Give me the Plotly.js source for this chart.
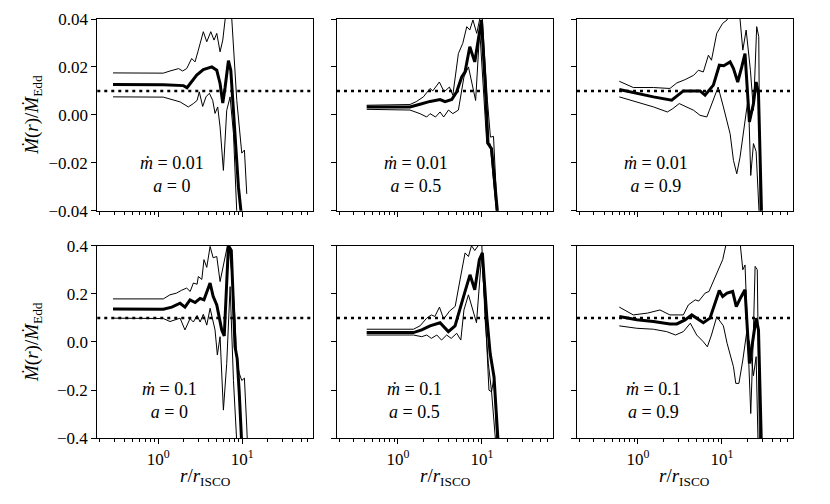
<!DOCTYPE html>
<html>
<head>
<meta charset="utf-8">
<script src="https://cdn.plot.ly/plotly-3.0.1.min.js"></script>
<style>
  body { margin: 0; background: #fff; }
  #container { width: 830px; height: 504px; }
</style>
</head>
<body>
<div id="container"></div>
<script>
// r / r_ISCO and Mdot / Mdot_Edd
// panel 1: mdot = 0.01, a = 0
const rMid1 = [0.29, 1.15, 2.0, 2.2, 2.87, 3.44, 4.34, 4.97, 5.44, 5.86, 6.24, 6.84, 7.3, 8.2, 9.0, 9.9];
const mid1 = [0.0127, 0.0126, 0.0122, 0.0113, 0.0166, 0.0189, 0.02, 0.0186, 0.0131, 0.0049, 0.0114, 0.0226, 0.0186, -0.0079, -0.0302, -0.044];
const rHi1 = [0.29, 1.15, 1.38, 1.75, 1.95, 2.18, 2.5, 2.74, 3.0, 3.44, 3.78, 4.22, 4.61, 4.97, 5.44, 5.86, 6.24, 6.65, 7.5, 8.6, 9.86, 10.6, 11.3];
const hi1 = [0.0175, 0.0174, 0.0183, 0.0193, 0.0183, 0.0193, 0.0235, 0.0221, 0.027, 0.0347, 0.0305, 0.0347, 0.0312, 0.034, 0.0263, 0.0312, 0.0396, 0.045, 0.04, 0.006, -0.016, -0.0147, -0.033];
const rLo1 = [0.29, 1.15, 1.82, 2.28, 2.62, 2.9, 3.08, 3.38, 3.7, 4.06, 4.45, 4.74, 5.1, 5.44, 5.96, 6.53, 7.16, 7.85, 8.7];
const lo1 = [0.0075, 0.0074, 0.0054, 0.0033, 0.0047, 0.006, 0.0096, 0.0035, 0.0075, 0.009, 0.006, 0.0006, 0.0033, -0.0051, -0.0232, 0.0019, 0.0075, -0.0078, -0.045];

// panel 2: mdot = 0.01, a = 0.5
const rMid2 = [0.425, 1.39, 1.83, 2.41, 3.17, 3.64, 4.37, 5.0, 5.74, 6.29, 7.16, 8.2, 9.0, 9.86, 10.9, 11.8, 13.0, 15.6];
const mid2 = [0.0033, 0.0033, 0.0044, 0.0056, 0.0064, 0.0055, 0.0064, 0.0096, 0.0158, 0.018, 0.0284, 0.0221, 0.031, 0.0396, 0.013, -0.012, -0.0142, -0.044];
const rHi2 = [0.425, 1.39, 1.65, 2.01, 2.41, 2.6, 3.11, 3.55, 4.1, 4.5, 5.24, 5.9, 6.59, 7.16, 7.8, 8.66, 9.4, 10.0, 11.6, 12.6, 13.7, 15.4];
const hi2 = [0.004, 0.0043, 0.0055, 0.0075, 0.011, 0.01, 0.0137, 0.0096, 0.0116, 0.0082, 0.0256, 0.0298, 0.0368, 0.0354, 0.0396, 0.034, 0.04, 0.042, 0.006, -0.0093, -0.009, -0.045];
const rLo2 = [0.425, 1.39, 1.83, 2.2, 2.41, 2.8, 3.17, 3.5, 4.0, 4.5, 5.24, 6.1, 6.9, 7.7, 8.4, 9.4, 10.4, 11.4, 12.5, 15.2];
const lo2 = [0.0023, 0.002, 0.0005, -0.0009, 0.0005, -0.0009, 0.0012, -0.0009, 0.002, 0.0005, 0.002, 0.0158, 0.02, 0.0116, 0.006, 0.0354, 0.0116, -0.012, -0.012, -0.045];

// panel 3: mdot = 0.01, a = 0.9
const rMid3 = [0.6, 0.97, 1.53, 2.52, 3.47, 5.48, 6.29, 7.9, 9.3, 10.5, 12.5, 13.7, 15.4, 17.2, 18.8, 21.2, 23.7, 25.5, 27.2, 29.7];
const mid3 = [0.0106, 0.0089, 0.0075, 0.0061, 0.01, 0.01, 0.0082, 0.0124, 0.0207, 0.0205, 0.0221, 0.0193, 0.0137, 0.02, 0.0256, -0.003, 0.0047, 0.0137, 0.0089, -0.044];
const rHi3 = [0.6, 0.88, 1.53, 2.4, 2.9, 3.64, 4.6, 5.24, 6.0, 6.9, 7.5, 8.66, 10.2, 11.5, 13.5, 15.5, 16.4, 17.7, 19.4, 21.8, 23.7, 25.9, 27.4, 28.5];
const hi3 = [0.014, 0.0114, 0.0114, 0.011, 0.0133, 0.0147, 0.0165, 0.0186, 0.0179, 0.0249, 0.0228, 0.034, 0.0382, 0.0396, 0.05, 0.05, 0.04, 0.027, 0.0354, 0.0186, 0.0019, 0.0368, 0.0326, -0.045];
const rLo3 = [0.6, 0.97, 1.53, 2.24, 2.6, 3.1, 3.81, 4.6, 5.48, 6.6, 7.08, 7.9, 9.0, 10.4, 12.5, 13.7, 15.0, 16.4, 18.3, 20.6, 22.0, 23.7, 25.5, 28.0];
const lo3 = [0.0075, 0.0054, 0.0033, 0.0012, 0.0026, 0.0047, 0.0033, 0.0019, -0.0002, -0.0009, 0.0019, 0.0061, 0.0116, 0.0033, -0.0079, -0.019, -0.0246, -0.0177, -0.0051, 0.0075, -0.0253, -0.012, -0.0153, -0.045];

// panel 4: mdot = 0.1, a = 0
const rMid4 = [0.29, 1.15, 1.45, 1.82, 2.08, 2.39, 2.75, 3.15, 3.5, 4.14, 4.5, 4.97, 5.7, 6.1, 6.84, 7.4, 8.2, 8.7, 9.2, 9.9];
const mid4 = [0.137, 0.136, 0.145, 0.161, 0.145, 0.175, 0.164, 0.181, 0.175, 0.245, 0.19, 0.154, 0.05, 0.025, 0.4, 0.38, -0.02, -0.07, -0.21, -0.44];
const rHi4 = [0.29, 1.15, 1.38, 1.65, 1.9, 2.18, 2.4, 2.62, 2.9, 3.0, 3.3, 3.5, 3.78, 4.14, 4.5, 4.97, 5.44, 5.86, 6.4, 6.84, 7.7, 8.2, 8.6, 9.2, 9.86, 10.6, 11.3, 11.6];
const hi4 = [0.179, 0.179, 0.196, 0.203, 0.215, 0.224, 0.21, 0.245, 0.24, 0.272, 0.26, 0.342, 0.31, 0.397, 0.35, 0.355, 0.251, 0.31, 0.375, 0.42, 0.245, 0.092, -0.075, -0.13, -0.16, -0.15, -0.353, -0.45];
const rLo4 = [0.29, 1.15, 1.38, 1.82, 2.08, 2.39, 2.62, 2.9, 3.15, 3.44, 3.78, 4.14, 4.74, 5.05, 5.44, 5.96, 6.53, 7.16, 7.85, 8.7];
const lo4 = [0.099, 0.0975, 0.085, 0.099, 0.05, 0.097, 0.083, 0.11, 0.083, 0.115, 0.07, 0.14, 0.05, -0.054, 0.022, -0.283, -0.089, 0.23, -0.16, -0.45];

// panel 5: mdot = 0.1, a = 0.5
const rMid5 = [0.425, 1.53, 1.92, 2.41, 3.17, 3.98, 4.78, 5.58, 6.29, 7.2, 8.2, 9.3, 10.1, 11.4, 12.5, 13.9, 15.7];
const mid5 = [0.039, 0.039, 0.05, 0.067, 0.08, 0.043, 0.067, 0.154, 0.21, 0.279, 0.217, 0.342, 0.37, 0.105, -0.047, -0.145, -0.44];
const rHi5 = [0.425, 1.53, 1.83, 2.2, 2.5, 2.75, 3.12, 3.5, 4.1, 4.8, 5.48, 6.29, 6.9, 7.5, 8.2, 9.0, 9.9, 10.9, 11.9, 13.0, 13.9, 15.2];
const hi5 = [0.053, 0.053, 0.067, 0.099, 0.1125, 0.106, 0.145, 0.095, 0.128, 0.148, 0.258, 0.37, 0.355, 0.4, 0.38, 0.4, 0.42, 0.092, -0.089, -0.207, -0.145, -0.45];
const rLo5 = [0.425, 1.53, 1.92, 2.2, 2.5, 2.9, 3.3, 3.8, 4.3, 5.0, 5.6, 6.1, 6.9, 7.9, 8.6, 9.9, 10.9, 12.1, 13.0, 14.8];
const lo5 = [0.029, 0.029, 0.022, 0.029, 0.015, 0.029, 0.008, 0.029, 0.015, 0.036, 0.008, 0.133, 0.196, 0.126, 0.08, 0.36, 0.133, -0.2, -0.207, -0.45];

// panel 6: mdot = 0.1, a = 0.9
const rMid6 = [0.6, 0.97, 1.53, 2.4, 2.9, 3.64, 4.37, 5.0, 6.0, 7.2, 8.0, 9.3, 10.2, 11.5, 13.4, 14.8, 16.8, 18.8, 21.2, 23.2, 25.5, 27.2, 29.5];
const mid6 = [0.1055, 0.092, 0.085, 0.075, 0.075, 0.092, 0.1125, 0.099, 0.08, 0.099, 0.145, 0.214, 0.189, 0.203, 0.21, 0.147, 0.186, 0.217, -0.089, -0.005, 0.099, 0.05, -0.44];
const rHi6 = [0.6, 0.88, 1.3, 1.83, 2.4, 3.47, 3.98, 4.8, 5.3, 6.3, 7.0, 7.9, 9.0, 10.2, 11.5, 13.5, 15.5, 16.4, 17.7, 18.8, 20.5, 22.0, 23.5, 24.8, 26.3, 28.0];
const hi6 = [0.145, 0.1125, 0.12, 0.133, 0.1125, 0.1125, 0.154, 0.175, 0.17, 0.203, 0.21, 0.251, 0.3, 0.342, 0.425, 0.5, 0.5, 0.42, 0.3, 0.32, 0.0, -0.297, 0.0, 0.314, 0.3, -0.45];
const rLo6 = [0.6, 0.97, 1.53, 2.2, 2.8, 3.47, 4.2, 5.0, 6.0, 6.7, 7.5, 8.66, 10.4, 11.5, 13.7, 14.6, 15.9, 17.7, 19.6, 21.2, 23.7, 25.5, 27.0];
const lo6 = [0.067, 0.057, 0.053, 0.043, 0.029, 0.043, 0.078, 0.029, 0.001, -0.02, 0.029, 0.105, 0.067, -0.005, -0.103, -0.172, -0.172, -0.075, 0.036, 0.0, -0.14, -0.061, -0.45];

const panelMdot = ["0.01", "0.01", "0.01", "0.1", "0.1", "0.1"];
const panelSpin = ["0", "0.5", "0.9", "0", "0.5", "0.9"];
const refLevel = [0.01, 0.01, 0.01, 0.1, 0.1, 0.1];
const yTicksTop = [-0.04, -0.02, 0, 0.02, 0.04];
const yTicksBottom = [-0.4, -0.2, 0, 0.2, 0.4];
const xTickVals = [1, 10];
const xTickText = ["10<sup>0</sup>", "10<sup>1</sup>"];
const xMinorVals = [0.2, 0.3, 0.4, 0.5, 0.6, 0.7, 0.8, 0.9, 2, 3, 4, 5, 6, 7, 8, 9, 20, 30, 40, 50, 60];

const panels = [
  [rMid1, mid1, rHi1, hi1, rLo1, lo1],
  [rMid2, mid2, rHi2, hi2, rLo2, lo2],
  [rMid3, mid3, rHi3, hi3, rLo3, lo3],
  [rMid4, mid4, rHi4, hi4, rLo4, lo4],
  [rMid5, mid5, rHi5, hi5, rLo5, lo5],
  [rMid6, mid6, rHi6, hi6, rLo6, lo6]
];

const FONT = "'Liberation Serif', 'Times New Roman', serif";
const xDomains = [[0.1172, 0.3775], [0.406, 0.6663], [0.6952, 0.9554]];
const yDomains = [[0.582, 0.9623], [0.1304, 0.5125]];
// label block placement inside each panel (axis-domain fractions)
const labelX = [0.345, 0.368, 0.365, 0.335, 0.357, 0.356];
const labelY = [0.19, 0.195];

const data = [];
const layout = {
  width: 830,
  height: 504,
  margin: { l: 0, r: 0, t: 0, b: 0 },
  paper_bgcolor: "white",
  plot_bgcolor: "white",
  showlegend: false,
  font: { family: FONT, size: 17, color: "black" },
  shapes: [],
  annotations: []
};

for (let i = 0; i < 6; i++) {
  const n = i + 1;
  const row = i < 3 ? 0 : 1;
  const col = i % 3;
  const xa = n === 1 ? "x" : "x" + n;
  const ya = n === 1 ? "y" : "y" + n;
  const p = panels[i];

  // envelopes first, mean on top
  data.push({ x: p[2], y: p[3], xaxis: xa, yaxis: ya, mode: "lines", type: "scatter", line: { color: "black", width: 1 } });
  data.push({ x: p[4], y: p[5], xaxis: xa, yaxis: ya, mode: "lines", type: "scatter", line: { color: "black", width: 1 } });
  data.push({ x: p[0], y: p[1], xaxis: xa, yaxis: ya, mode: "lines", type: "scatter", line: { color: "black", width: 3 } });

  const xKey = n === 1 ? "xaxis" : "xaxis" + n;
  const yKey = n === 1 ? "yaxis" : "yaxis" + n;
  const axisCommon = {
    showline: true, mirror: true, linecolor: "black", linewidth: 1,
    ticks: "outside", ticklen: 5, tickwidth: 1, tickcolor: "black",
    showgrid: false, zeroline: false, fixedrange: true,
    tickfont: { family: FONT, size: 17, color: "black" }
  };
  layout[xKey] = Object.assign({}, axisCommon, {
    type: "log",
    range: [-0.725, 1.845],
    domain: xDomains[col],
    anchor: ya,
    tickmode: "array",
    tickvals: xTickVals,
    ticktext: xTickText,
    showticklabels: row === 1,
    minor: { tickmode: "array", tickvals: xMinorVals, ticks: "outside", ticklen: 3, tickwidth: 1, tickcolor: "black", showgrid: false }
  });
  layout[yKey] = Object.assign({}, axisCommon, {
    range: row === 0 ? [-0.04, 0.04] : [-0.4, 0.4],
    domain: yDomains[row],
    anchor: xa,
    tickmode: "array",
    tickvals: row === 0 ? yTicksTop : yTicksBottom,
    tickformat: row === 0 ? ".2f" : ".1f",
    showticklabels: col === 0
  });

  // axis titles as annotations so they sit where the original puts them
  if (row === 1) {
    layout.annotations.push({
      xref: xa + " domain", yref: "paper", x: 0.5, y: 1 - 477 / 504,
      xanchor: "center", yanchor: "middle", showarrow: false,
      text: "<i>r</i>/<i>r</i><sub>ISCO</sub>", font: { family: FONT, size: 19 }
    });
  }
  if (col === 0) {
    layout.annotations.push({
      xref: "paper", yref: ya + " domain", x: 33 / 830, y: 0.5,
      xanchor: "center", yanchor: "middle", textangle: -90, showarrow: false,
      text: "<i>Ṁ</i>(<i>r</i>)/<i>Ṁ</i><sub>Edd</sub>", font: { family: FONT, size: 19 }
    });
  }

  // reference accretion rate
  layout.shapes.push({
    type: "line", xref: xa + " domain", yref: ya,
    x0: 0, x1: 1, y0: refLevel[i], y1: refLevel[i],
    line: { color: "black", width: 2.5, dash: "3px,4px" }
  });

  layout.annotations.push({
    xref: xa + " domain", yref: ya + " domain",
    x: labelX[i], y: labelY[row], xanchor: "center", yanchor: "middle", align: "center",
    showarrow: false, text: `<i>ṁ</i> = ${panelMdot[i]}<br><i>a</i> = ${panelSpin[i]}`,
    font: { family: FONT, size: 18, color: "black" }
  });
}

Plotly.newPlot("container", data, layout, { displayModeBar: false, staticPlot: true });
</script>
</body>
</html>
